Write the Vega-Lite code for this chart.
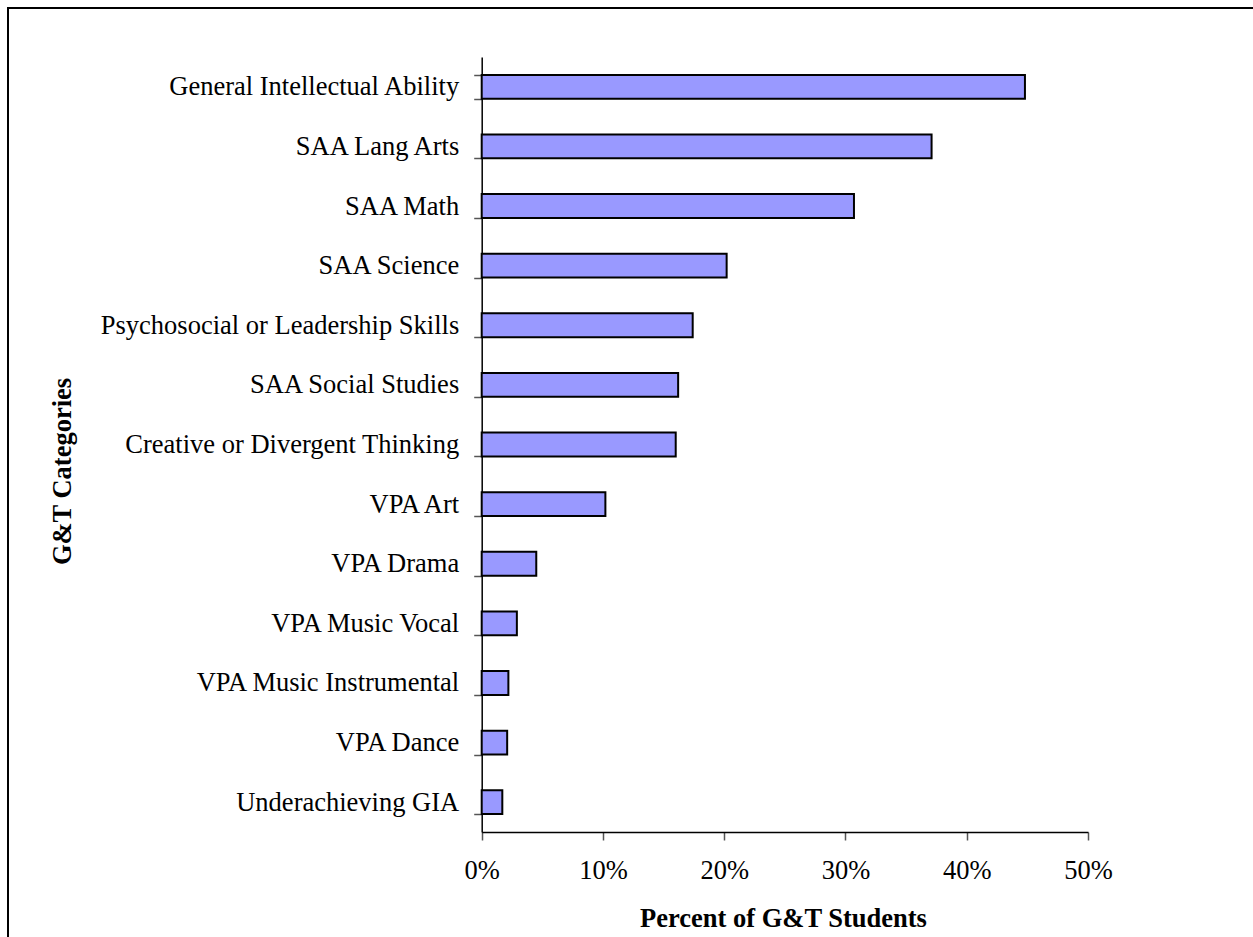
{
  "$schema": "https://vega.github.io/schema/vega-lite/v6.json",
  "autosize": {"type": "none"},
  "padding": {"left": 8, "top": 8, "right": 0, "bottom": 0},
  "width": 1250,
  "height": 935,
  "background": "white",
  "config": {
    "view": {"stroke": "black", "strokeWidth": 2},
    "font": "Liberation Serif",
    "axis": {
      "labelFont": "Liberation Serif",
      "titleFont": "Liberation Serif",
      "labelColor": "black",
      "titleColor": "black",
      "labelFontSize": 26.5,
      "titleFontSize": 26.5,
      "titleFontWeight": "bold",
      "domainColor": "black",
      "domainWidth": 1.5,
      "tickColor": "#555555",
      "tickWidth": 1.5,
      "tickSize": 8,
      "grid": false
    }
  },
  "data": {
    "values": [
      {"category": "General Intellectual Ability", "pct": 0.448},
      {"category": "SAA Lang Arts", "pct": 0.371},
      {"category": "SAA Math", "pct": 0.307},
      {"category": "SAA Science", "pct": 0.202},
      {"category": "Psychosocial or Leadership Skills", "pct": 0.174},
      {"category": "SAA Social Studies", "pct": 0.162},
      {"category": "Creative or Divergent Thinking", "pct": 0.160},
      {"category": "VPA Art", "pct": 0.102},
      {"category": "VPA Drama", "pct": 0.045},
      {"category": "VPA Music Vocal", "pct": 0.029},
      {"category": "VPA Music Instrumental", "pct": 0.022},
      {"category": "VPA Dance", "pct": 0.021},
      {"category": "Underachieving GIA", "pct": 0.017}
    ]
  },
  "mark": {"type": "bar", "fill": "#9999FF", "stroke": "black", "strokeWidth": 2},
  "encoding": {
    "y": {
      "field": "category",
      "type": "nominal",
      "sort": null,
      "scale": {"range": [49, 824], "paddingInner": 0.6, "paddingOuter": 0.3},
      "axis": {
        "title": "G&T Categories",
        "offset": -473.7,
        "tickBand": "extent",
        "labelPadding": 15,
        "labelLimit": 500,
        "labelBaseline": "middle",
        "titleX": -419.7,
        "titleY": 463,
        "titleAngle": -90,
        "titleBaseline": "middle",
        "titleAnchor": "middle"
      }
    },
    "x": {
      "field": "pct",
      "type": "quantitative",
      "scale": {"domain": [0, 0.5], "range": [473.7, 1080], "nice": false, "zero": true},
      "axis": {
        "title": "Percent of G&T Students",
        "offset": -111,
        "values": [0, 0.1, 0.2, 0.3, 0.4, 0.5],
        "format": ".0%",
        "labelPadding": 17,
        "titleX": 775,
        "titleY": 86,
        "titleBaseline": "middle",
        "titleAnchor": "middle",
        "labelFlush": false
      }
    }
  }
}
